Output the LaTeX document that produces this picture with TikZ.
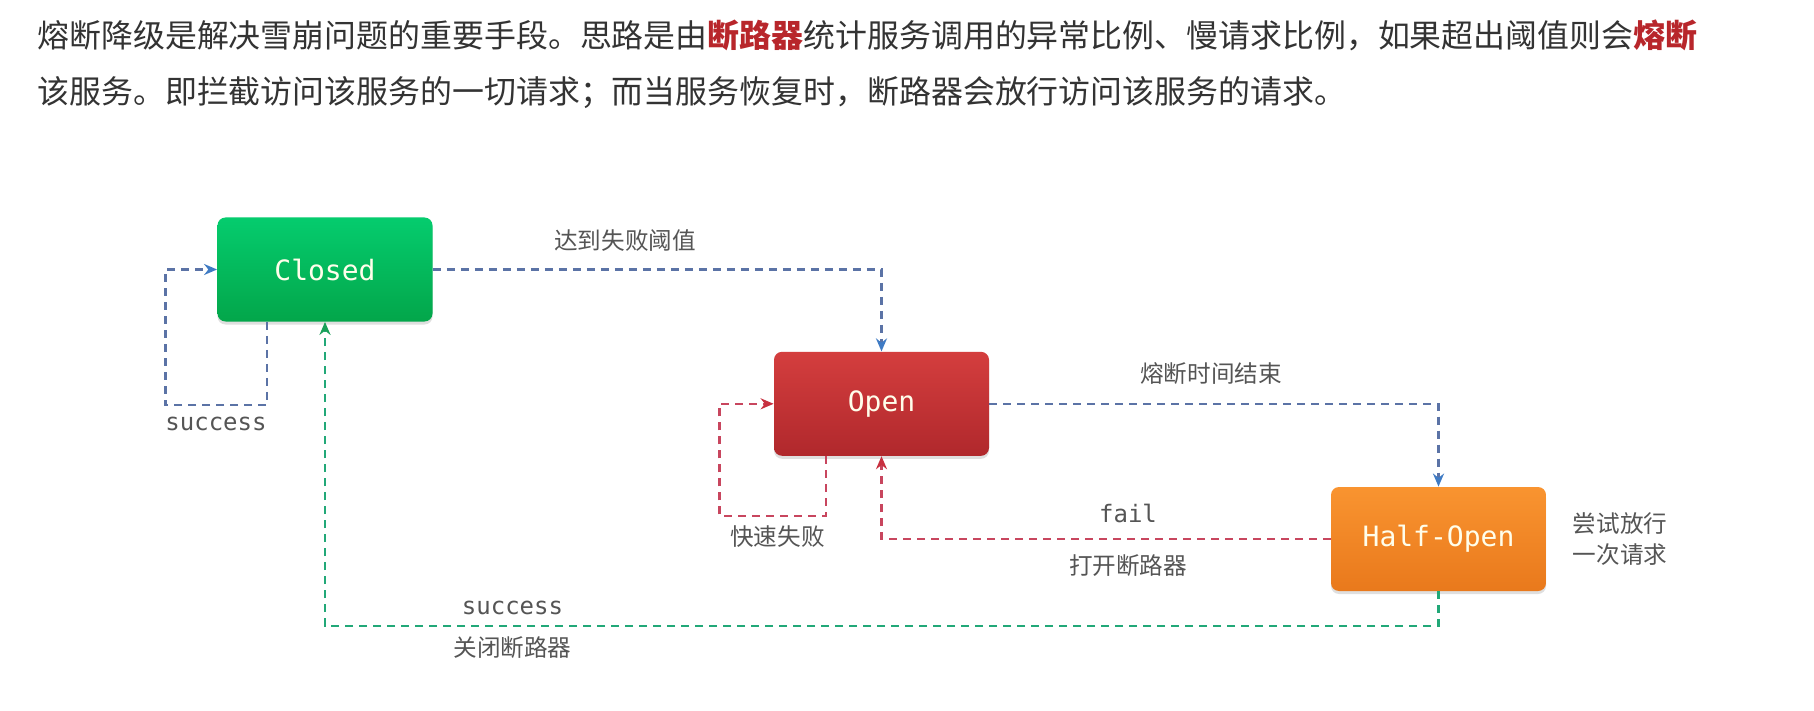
\documentclass[tikz,border=0pt]{standalone}
\usepackage{fontspec}
\usepackage{tikz}
\usetikzlibrary{arrows.meta,shadows}
\newfontfamily\cjk{Noto Sans CJK SC}
\newfontfamily\monofnt{DejaVu Sans Mono}
\definecolor{txtdark}{HTML}{333333}
\definecolor{txtgray}{HTML}{555555}
\definecolor{hilite}{HTML}{B8262B}
\definecolor{dashblue}{HTML}{5B73A6}
\definecolor{tipblue}{HTML}{3F7BC4}
\definecolor{dashred}{HTML}{C8465E}
\definecolor{tipred}{HTML}{C8303F}
\definecolor{dashgreen}{HTML}{22A878}
\definecolor{tipgreen}{HTML}{18A058}
\tikzset{
  statebox/.style   = {rounded corners=4pt,minimum width=107.5pt,minimum height=52pt,
                       text=white!92!yellow,font=\monofnt\fontsize{14}{16}\selectfont,
                       drop shadow={opacity=0.25,shadow xshift=0pt,shadow yshift=-1.5pt}},
  closedbox/.style  = {statebox,top color={rgb,255:red,5;green,204;blue,110},bottom color={rgb,255:red,3;green,166;blue,74}},
  openbox/.style    = {statebox,top color={rgb,255:red,212;green,62;blue,62},bottom color={rgb,255:red,176;green,40;blue,44}},
  halfbox/.style    = {statebox,top color={rgb,255:red,249;green,148;blue,48},bottom color={rgb,255:red,233;green,121;blue,28}},
  flowline/.style   = {line width=1.1pt,dash pattern=on 4pt off 3pt},
  bluearr/.style    = {flowline,dashblue,-{Stealth[length=6.5pt,width=5.5pt,color=tipblue]}},
  redarr/.style     = {flowline,dashred,-{Stealth[length=6.5pt,width=5.5pt,color=tipred]}},
  greenarr/.style   = {flowline,dashgreen,-{Stealth[length=6.5pt,width=5.5pt,color=tipgreen]}},
  cjklabel/.style   = {text=txtgray,font=\cjk\fontsize{11.8}{15.6}\selectfont,inner sep=0pt},
  monolabel/.style  = {text=txtgray,font=\monofnt\fontsize{12}{14}\selectfont,inner sep=0pt}
}
\begin{document}
\begin{tikzpicture}[x=0.5pt,y=-0.5pt]
  \useasboundingbox[fill=white] (0,0) rectangle (1814,711);
  % intro text
  \node[anchor=west,inner sep=0pt,text=txtdark,font=\cjk\fontsize{15.96}{20}\selectfont] (intro1) at (37,35)
    {熔断降级是解决雪崩问题的重要手段。思路是由\textcolor{hilite}{\textbf{断路器}}统计服务调用的异常比例、慢请求比例，如果超出阈值则会\textcolor{hilite}{\textbf{熔断}}};
  \node[anchor=west,inner sep=0pt,text=txtdark,font=\cjk\fontsize{15.96}{20}\selectfont] (intro2) at (37,93)
    {该服务。即拦截访问该服务的一切请求；而当服务恢复时，断路器会放行访问该服务的请求。};

  % states
  \node[closedbox] (closed) at (325,269.5) {Closed};
  \node[openbox]   (open)   at (881.5,403.8) {Open};
  \node[halfbox]   (half)   at (1438.5,539) {Half-Open};

  % turning points
  \coordinate (cbot)  at (267,405);
  \coordinate (cleft) at (165.5,405);
  \coordinate (obot)  at (826,516);
  \coordinate (oleft) at (719.5,516);
  \coordinate (hbot)  at (1438.5,626);

  % transitions
  \draw[bluearr]  (closed.east) -| (open.north);
  \draw[bluearr]  (closed.south -| cbot) -- (cbot) -- (cleft) |- (closed.west);
  \draw[bluearr]  (open.east) -| (half.north);
  \draw[redarr]   (open.south -| obot) -- (obot) -- (oleft) |- (open.west);
  \draw[redarr]   (half.west) -| (open.south);
  \draw[greenarr] (half.south) -- (hbot) -| (closed.south);

  % labels
  \node[cjklabel]  (lreach)   at (625,240.5) {达到失败阈值};
  \node[monolabel] (lsucc1)   at (216,423.5) {success};
  \node[cjklabel]  (ltimeout) at (1211,373.5) {熔断时间结束};
  \node[cjklabel]  (lfast)    at (777.5,537) {快速失败};
  \node[monolabel] (lfail)    at (1128,513.5) {fail};
  \node[cjklabel]  (lopen)    at (1128,566) {打开断路器};
  \node[monolabel] (lsucc2)   at (512.5,607.5) {success};
  \node[cjklabel]  (lclose)   at (512.5,648) {关闭断路器};
  \node[cjklabel,align=left] (ltry) at (1620,539) {尝试放行\\一次请求};
\end{tikzpicture}
\end{document}
